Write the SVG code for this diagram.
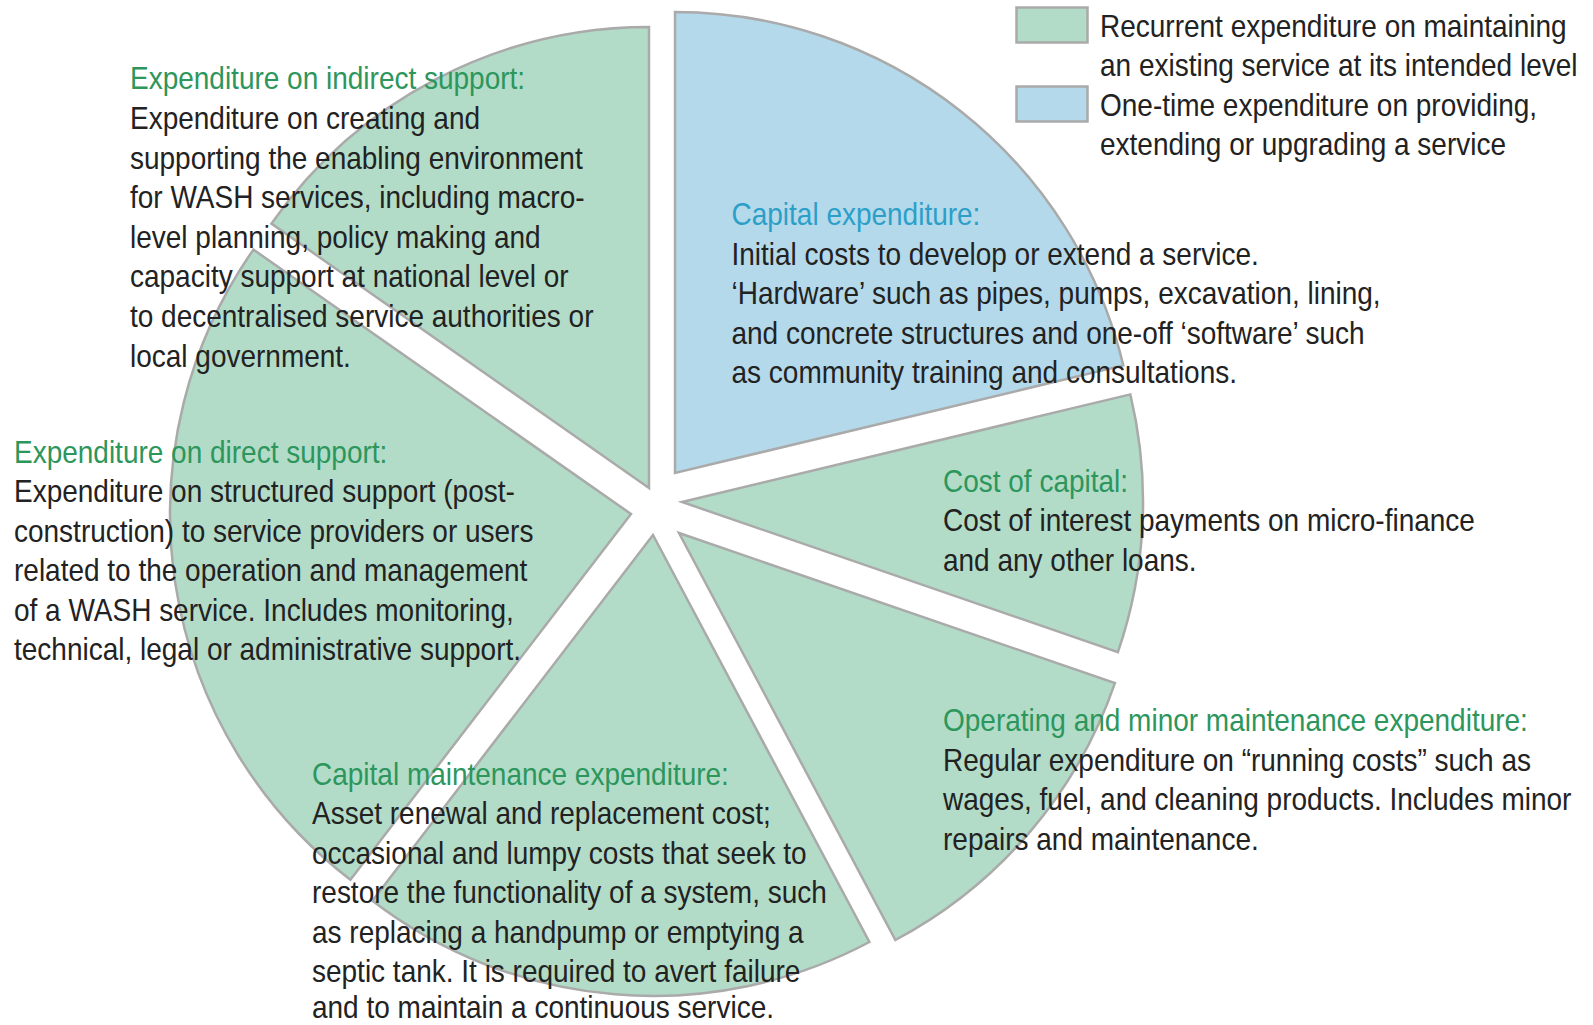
<svg xmlns="http://www.w3.org/2000/svg" width="1593" height="1025" viewBox="0 0 1593 1025">
<style>
.sl{stroke:#a9aaa9;stroke-width:2.5;stroke-linejoin:miter}
.g{fill:#b2dcc8}
.b{fill:#b4d9ea}
.t{font-family:"Liberation Sans",Arial,sans-serif;font-size:32px;fill:#222}
.hg{fill:#2c965c}
.hb{fill:#2c9fc9}
</style>
<rect width="1593" height="1025" fill="#fff"/>
<g id="node-capital-expenditure">
<path class="sl b" d="M675,473 L675,12 A461,461 0 0 1 1123.3,365.4 Z"/>
<g class="t" transform="translate(731.5 2) scale(0.875 1)">
<text class="hb" x="0" y="223.5">Capital expenditure:</text>
<text x="0" y="263">Initial costs to develop or extend a service.</text>
<text x="0" y="302.5">‘Hardware’ such as pipes, pumps, excavation, lining,</text>
<text x="0" y="342">and concrete structures and one-off ‘software’ such</text>
<text x="0" y="381.5">as community training and consultations.</text>
</g>
</g>
<g id="node-cost-of-capital">
<path class="sl g" d="M682,502 L1130.3,394.4 A461,461 0 0 1 1117.9,652.1 Z"/>
<g class="t" transform="translate(943 2) scale(0.875 1)">
<text class="hg" x="0" y="490">Cost of capital:</text>
<text x="0" y="529.5">Cost of interest payments on micro-finance</text>
<text x="0" y="569">and any other loans.</text>
</g>
</g>
<g id="node-operating">
<path class="sl g" d="M679,533 L1114.9,683.1 A461,461 0 0 1 895.4,940 Z"/>
<g class="t" transform="translate(943 2) scale(0.875 1)">
<text class="hg" x="0" y="729.5">Operating and minor maintenance expenditure:</text>
<text x="0" y="769">Regular expenditure on “running costs” such as</text>
<text x="0" y="808.5">wages, fuel, and cleaning products. Includes minor</text>
<text x="0" y="848">repairs and maintenance.</text>
</g>
</g>
<g id="node-direct-support">
<path class="sl g" d="M631,514 L350.4,879.7 A461,461 0 0 1 253.4,249.6 Z"/>
<g class="t" transform="translate(14 2) scale(0.875 1)">
<text class="hg" x="0" y="461">Expenditure on direct support:</text>
<text x="0" y="500.5">Expenditure on structured support (post-</text>
<text x="0" y="540">construction) to service providers or users</text>
<text x="0" y="579.5">related to the operation and management</text>
<text x="0" y="619">of a WASH service. Includes monitoring,</text>
<text x="0" y="658.5">technical, legal or administrative support.</text>
</g>
</g>
<g id="node-capital-maintenance">
<path class="sl g" d="M653,535 L869.4,942 A461,461 0 0 1 372.4,900.7 Z"/>
<g class="t" transform="translate(312 2) scale(0.875 1)">
<text class="hg" x="0" y="783">Capital maintenance expenditure:</text>
<text x="0" y="822.5">Asset renewal and replacement cost;</text>
<text x="0" y="862">occasional and lumpy costs that seek to</text>
<text x="0" y="901.5">restore the functionality of a system, such</text>
<text x="0" y="941">as replacing a handpump or emptying a</text>
<text x="0" y="980.5">septic tank. It is required to avert failure</text>
<text x="0" y="1016">and to maintain a continuous service.</text>
</g>
</g>
<g id="node-indirect-support">
<path class="sl g" d="M649,488 L271.4,223.6 A461,461 0 0 1 649,27 Z"/>
<g class="t" transform="translate(130 2) scale(0.875 1)">
<text class="hg" x="0" y="87.5">Expenditure on indirect support:</text>
<text x="0" y="127">Expenditure on creating and</text>
<text x="0" y="166.6">supporting the enabling environment</text>
<text x="0" y="206.2">for WASH services, including macro-</text>
<text x="0" y="245.8">level planning, policy making and</text>
<text x="0" y="285.4">capacity support at national level or</text>
<text x="0" y="325">to decentralised service authorities or</text>
<text x="0" y="364.6">local government.</text>
</g>
</g>
<g id="legend">
<rect class="sl g" x="1016.5" y="7.5" width="71" height="35"/>
<rect class="sl b" x="1016.5" y="86.5" width="71" height="35"/>
<g class="t" transform="translate(1100 2) scale(0.875 1)">
<text x="0" y="35">Recurrent expenditure on maintaining</text>
<text x="0" y="74.5">an existing service at its intended level</text>
<text x="0" y="114">One-time expenditure on providing,</text>
<text x="0" y="153">extending or upgrading a service</text>
</g>
</g>
</svg>
